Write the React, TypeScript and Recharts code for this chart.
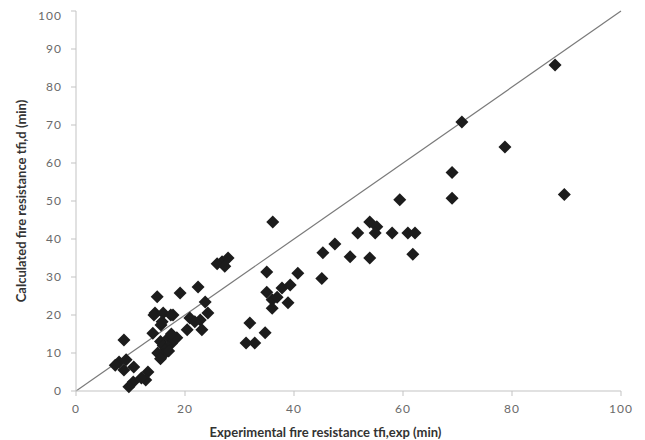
import { ScatterChart, Scatter, XAxis, YAxis, ReferenceLine } from 'recharts'

// experimental vs calculated fire resistance (min)
const expX = [
  87.9, 70.8, 78.7, 69, 69, 89.6, 59.4,
  53.9, 55.2, 51.7, 54.9, 58, 60.9, 62.2, 61.8, 53.9, 50.3, 47.5, 45.3, 45.1,
  36.1, 40.7, 35, 35, 37.8, 39.3, 36, 36.9, 36, 38.9, 31.9, 34.7, 31.2, 32.8,
  26.8, 27.9, 25.9, 27.3,
  19.1, 22.4, 23.7, 24.2, 22.8, 23.1, 20.4, 20.9, 21.8, 17.8,
  14.9, 14.5, 14.3, 16, 15.6, 14.1, 15.8, 17.4,
  15.5, 16, 16.5, 17, 17.5, 18, 16, 15, 17, 18.5, 15.5, 17.5,
  8.8, 7.9, 9.2, 8.8, 10.6, 10.5, 9.7, 13.2, 12.8, 12, 7.2,
]
const calcY = [
  85.8, 70.8, 64.2, 57.5, 50.7, 51.7, 50.3,
  44.5, 43.2, 41.6, 41.6, 41.6, 41.6, 41.6, 36, 35, 35.3, 38.7, 36.4, 29.6,
  44.5, 31, 31.3, 26, 27.1, 27.9, 24, 24.7, 21.8, 23.2, 17.9, 15.3, 12.6, 12.6,
  34, 35, 33.5, 32.8,
  25.8, 27.4, 23.4, 20.5, 18.7, 16.1, 16.1, 19.2, 18.2, 20,
  24.8, 20.5, 20, 20.5, 17.4, 15.2, 18.2, 20,
  13, 12, 11, 14, 12.5, 13.5, 9.5, 10, 10.5, 14, 8.5, 15,
  13.4, 7.6, 8.2, 5.5, 6.3, 2.4, 1.1, 5, 2.9, 3.4, 6.8,
]
const xTicks = [0, 20, 40, 60, 80, 100]
const yTicks = [0, 10, 20, 30, 40, 50, 60, 70, 80, 90, 100]

const points = expX.map((x, i) => ({ x, y: calcY[i] }))

const FONT = 'Lato, "Liberation Sans", sans-serif'
const tickStyle = { fill: '#6a6a6a', fontSize: 12, fontFamily: FONT, letterSpacing: 1 }

const Diamond = (props: any) => {
  const { cx, cy } = props
  const r = 6.5
  return (
    <polygon
      points={`${cx},${cy - r} ${cx + r},${cy} ${cx},${cy + r} ${cx - r},${cy}`}
      fill="#1c1c1c"
    />
  )
}

export default function App() {
  return (
    <div style={{ width: 637, height: 432, background: '#fff' }}>
      <ScatterChart width={637} height={432} margin={{ top: 3, right: 24, left: 8, bottom: 0 }}>
        <XAxis
          type="number"
          dataKey="x"
          domain={[0, 100]}
          ticks={xTicks}
          tickSize={5}
          tickMargin={8}
          height={49}
          stroke="#c3c3c3"
          tick={tickStyle}
          label={{
            value: 'Experimental fire resistance tfi,exp (min)',
            position: 'insideBottom',
            offset: 3,
            dx: -23,
            style: { fill: '#333', fontSize: 13, fontWeight: 700, fontFamily: FONT },
          }}
        />
        <YAxis
          type="number"
          dataKey="y"
          domain={[0, 100]}
          ticks={yTicks}
          tickSize={5}
          tickMargin={9}
          width={60}
          stroke="#c3c3c3"
          tick={tickStyle}
          label={{
            value: 'Calculated fire resistance tfi,d (min)',
            angle: -90,
            position: 'insideLeft',
            offset: 5,
            style: { textAnchor: 'middle', fill: '#333', fontSize: 13, fontWeight: 700, fontFamily: FONT },
          }}
        />
        <Scatter data={points} shape={Diamond} isAnimationActive={false} />
        <ReferenceLine
          segment={[{ x: 0, y: 0 }, { x: 100, y: 100 }]}
          stroke="#7a7a7a"
          strokeWidth={1.2}
          ifOverflow="visible"
        />
      </ScatterChart>
    </div>
  )
}
